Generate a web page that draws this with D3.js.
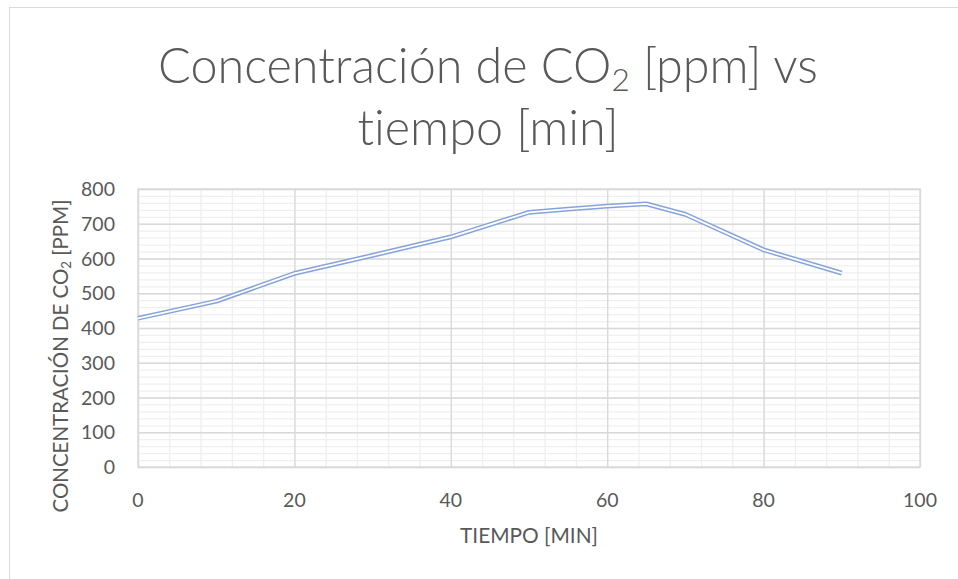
<!DOCTYPE html>
<html>
<head>
<meta charset="utf-8">
<script src="https://cdn.jsdelivr.net/npm/d3@7.9.0/dist/d3.min.js"></script>
<style>
  html, body { margin: 0; padding: 0; background: #fff; }
  svg { display: block; font-family: Lato, "Open Sans", sans-serif; font-variant-ligatures: none; }
</style>
</head>
<body>
<svg id="chart" width="958" height="579"></svg>
<script>
// data
const tiempo = [0, 10, 20, 30, 40, 50, 55, 60, 65, 70, 80, 90];
const co2 = [428, 477, 557, 609, 662, 733, 742, 751, 757, 727, 625, 558];
const xTicks = [0, 20, 40, 60, 80, 100];
const yTicks = [0, 100, 200, 300, 400, 500, 600, 700, 800];

const plot = { left: 138, right: 920, top: 189, bottom: 467 };
const textColor = "#595959";

const svg = d3.select("#chart");

// chart area border
svg.append("rect")
  .attr("x", 9.5).attr("y", 7.5)
  .attr("width", 980).attr("height", 620)
  .attr("fill", "#fff")
  .attr("stroke", "#d9d9d9");

const x = d3.scaleLinear().domain([0, 100]).range([plot.left, plot.right]);
const y = d3.scaleLinear().domain([0, 800]).range([plot.bottom, plot.top]);

// shrink/grow a text to a target width
function fitWidth(sel, target) {
  const size = parseFloat(sel.attr("font-size"));
  const w = sel.node().getComputedTextLength();
  sel.attr("font-size", size * target / w);
}

function grid(axis, ticks, len, color, translate) {
  svg.append("g")
    .attr("transform", translate)
    .call(axis.tickValues(ticks).tickSize(-len).tickFormat(""))
    .call(g => g.select(".domain").remove())
    .call(g => g.selectAll("line").attr("stroke", color).attr("stroke-width", 1.3));
}

const pw = plot.right - plot.left, ph = plot.bottom - plot.top;

// minor grid
grid(d3.axisBottom(x), d3.range(0, 101, 4), ph, "#efefef", `translate(0,${plot.bottom})`);
grid(d3.axisLeft(y), d3.range(0, 801, 20), pw, "#efefef", `translate(${plot.left},0)`);
// major grid
grid(d3.axisBottom(x), xTicks, ph, "#d9d9d9", `translate(0,${plot.bottom})`);
grid(d3.axisLeft(y), yTicks, pw, "#d9d9d9", `translate(${plot.left},0)`);

// plot frame
svg.append("rect")
  .attr("x", plot.left).attr("y", plot.top)
  .attr("width", pw).attr("height", ph)
  .attr("fill", "none").attr("stroke", "#d9d9d9").attr("stroke-width", 1.3);

// tick labels
svg.append("g")
  .selectAll("text")
  .data(yTicks)
  .join("text")
  .attr("x", 115)
  .attr("y", d => y(d) + 7)
  .attr("text-anchor", "end")
  .attr("font-size", 19.5)
  .attr("fill", textColor)
  .text(d => d);

svg.append("g")
  .selectAll("text")
  .data(xTicks)
  .join("text")
  .attr("x", d => x(d))
  .attr("y", 507)
  .attr("text-anchor", "middle")
  .attr("font-size", 19.5)
  .attr("fill", textColor)
  .text(d => d);

// double line (blue with white core)
const line = d3.line().x(d => x(d[0])).y(d => y(d[1]));
const pts = d3.zip(tiempo, co2);
svg.append("path")
  .datum(pts)
  .attr("d", line)
  .attr("fill", "none")
  .attr("stroke", "#86a3da")
  .attr("stroke-width", 4.8)
  .attr("stroke-linejoin", "round");
svg.append("path")
  .datum(pts)
  .attr("d", line)
  .attr("fill", "none")
  .attr("stroke", "#fff")
  .attr("stroke-width", 1.8)
  .attr("stroke-linejoin", "round");

// axis titles
const xt = svg.append("text")
  .attr("x", 529).attr("y", 543)
  .attr("text-anchor", "middle")
  .attr("font-size", 20)
  .attr("fill", textColor)
  .text("TIEMPO [MIN]");
fitWidth(xt, 138);

const yt = svg.append("text")
  .attr("transform", "translate(68,356) rotate(-90)")
  .attr("text-anchor", "middle")
  .attr("font-size", 20)
  .attr("fill", textColor);
yt.append("tspan").text("CONCENTRACIÓN DE CO");
yt.append("tspan").attr("font-size", "0.65em").attr("dy", 3).text("2");
yt.append("tspan").attr("dy", -3).text(" [PPM]");
fitWidth(yt, 313);

// title
const t1 = svg.append("text")
  .attr("x", 488).attr("y", 83)
  .attr("text-anchor", "middle")
  .attr("font-size", 56)
  .attr("font-weight", 300)
  .attr("fill", textColor);
t1.append("tspan").text("Concentración de CO");
t1.append("tspan").attr("font-size", "0.65em").attr("dy", 8).text("2");
t1.append("tspan").attr("dy", -8).text(" [ppm] vs");
fitWidth(t1, 660);

svg.append("text")
  .attr("x", 488).attr("y", 145)
  .attr("text-anchor", "middle")
  .attr("font-size", t1.attr("font-size"))
  .attr("font-weight", 300)
  .attr("fill", textColor)
  .text("tiempo [min]");
</script>
</body>
</html>
